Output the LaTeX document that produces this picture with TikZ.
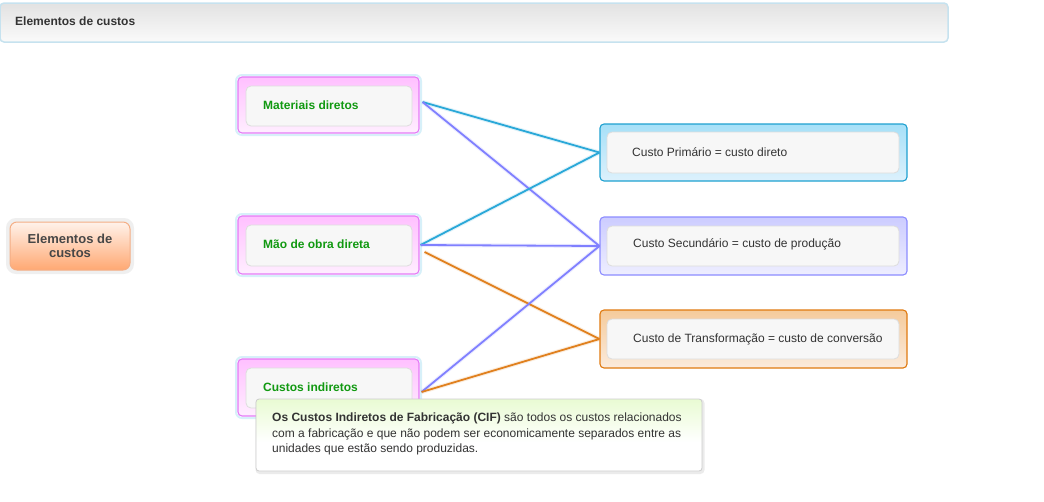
\documentclass[tikz,border=0pt]{standalone}
\usepackage{fontspec}
\setmainfont{Liberation Sans}
\usetikzlibrary{calc}
\definecolor{hdrborder}{HTML}{C6E2EF}
\definecolor{hdrtop}{HTML}{E2E2E2}
\definecolor{hdrbot}{HTML}{FAFAFA}
\definecolor{txtdark}{HTML}{333333}
\definecolor{pinkborder}{HTML}{E47AF6}
\definecolor{pinktop}{HTML}{FFC0FF}
\definecolor{pinkbot}{HTML}{FFEEFF}
\definecolor{cyanborder}{HTML}{1EA0D0}
\definecolor{cyantop}{HTML}{A6E0F8}
\definecolor{cyanbot}{HTML}{DDF1FC}
\definecolor{blueborder}{HTML}{8C8CFF}
\definecolor{bluetop}{HTML}{CCCCFF}
\definecolor{bluebot}{HTML}{EEEEFF}
\definecolor{orangeborder}{HTML}{E07A10}
\definecolor{orangetop}{HTML}{F5CB9C}
\definecolor{orangebot}{HTML}{FBEBDC}
\definecolor{innerfill}{HTML}{F7F7F7}
\definecolor{innerborder}{HTML}{DDDDDD}
\definecolor{greentxt}{HTML}{119911}
\definecolor{linecyan}{HTML}{2AA8D8}
\definecolor{lineblue}{HTML}{8080FF}
\definecolor{lineorange}{HTML}{E0801E}
\definecolor{elemtop}{HTML}{FFF2EA}
\definecolor{elembot}{HTML}{FFA872}
\definecolor{elemborder}{HTML}{F4AE86}
\definecolor{tipgreen}{HTML}{D6F8AE}
\definecolor{tipborder}{HTML}{CCCCCC}
\definecolor{halocol}{HTML}{BDE6F5}
\pgfdeclareverticalshading{tipshade}{100bp}{color(0bp)=(white); color(45bp)=(white); color(100bp)=(tipgreen)}
\tikzset{
  box/.style={rounded corners=4pt, inner sep=0pt, line width=1.1pt},
  leftbox/.style={box, draw=pinkborder, top color=pinktop, bottom color=pinkbot,
    minimum width=181pt, minimum height=56pt},
  rightbox/.style n args={3}{box, draw=#1, top color=#2, bottom color=#3,
    minimum width=307pt, minimum height=57pt},
  innerbox/.style={rounded corners=5pt, fill=innerfill, draw=innerborder, line width=0.8pt, inner sep=0pt},
  halo/.style={rounded corners=6pt, draw=#1, line width=2pt, opacity=0.6},
  lbl/.style={anchor=west, inner sep=0pt, font=\fontsize{12}{14}\selectfont\bfseries, text=greentxt},
  rlbl/.style={anchor=west, inner sep=0pt, font=\fontsize{12}{14}\selectfont, text=txtdark},
  conn/.style={line width=1.8pt, draw=#1},
  connglow/.style={line width=4pt, draw=#1, opacity=0.15}
}
\begin{document}
\begin{tikzpicture}[x=1pt,y=-1pt]
\useasboundingbox (0,0) rectangle (1044,501);
% header
\node[draw=hdrborder, line width=1.5pt, rounded corners=4pt, top color=hdrtop, bottom color=hdrbot,
  minimum width=948pt, minimum height=39pt, inner sep=0pt] (hdr) at (474,22.5) {};
\node[anchor=west, inner sep=0pt, font=\fontsize{12}{14}\selectfont\bfseries, text=txtdark] (hdrtxt) at (15,21) {Elementos de custos};
% central box
\node[draw=gray!25, line width=4pt, rounded corners=8pt, minimum width=124pt, minimum height=52pt, inner sep=0pt, opacity=0.5] (elemglow) at (70,246) {};
\node[draw=elemborder, line width=1pt, rounded corners=7pt, top color=elemtop, bottom color=elembot,
  minimum width=120pt, minimum height=48pt, inner sep=0pt, align=center,
  font=\fontsize{13}{14}\selectfont\bfseries, text=txtdark!90!white] (elem) at (70,246) {Elementos de\\custos};
% left halos
\node[halo=halocol, minimum width=185pt, minimum height=60pt] (mathalo) at (328.5,105) {};
\node[halo=halocol, minimum width=185pt, minimum height=62pt] (maohalo) at (328.5,245) {};
\node[halo=halocol, minimum width=185pt, minimum height=61pt] (cushalo) at (328.5,387.5) {};
% left boxes
\node[leftbox] (mat) at (328.5,105) {};
\node[innerbox, minimum width=166pt, minimum height=40pt] (matin) at (329,106) {};
\node[lbl] (mattxt) at (263,105) {Materiais diretos};
\node[leftbox, minimum height=58pt] (mao) at (328.5,245) {};
\node[innerbox, minimum width=166pt, minimum height=41pt] (maoin) at (329,245.5) {};
\node[lbl] (maotxt) at (263,244) {Mão de obra direta};
\node[leftbox, minimum height=57pt] (cus) at (328.5,387.5) {};
\node[innerbox, minimum width=166pt, minimum height=40pt] (cusin) at (329,388) {};
\node[lbl] (custxt) at (263,387) {Custos indiretos};
% right boxes
\node[rightbox={cyanborder}{cyantop}{cyanbot}] (prim) at (753.5,152.5) {};
\node[innerbox, minimum width=292pt, minimum height=41pt] (primin) at (753,152.5) {};
\node[rlbl] (primtxt) at (632,152) {Custo Primário = custo direto};
\node[rightbox={blueborder}{bluetop}{bluebot}, minimum height=58pt] (sec) at (753.5,246) {};
\node[innerbox, minimum width=292pt, minimum height=40pt] (secin) at (753,246) {};
\node[rlbl] (sectxt) at (633,244) {Custo Secundário = custo de produção};
\node[rightbox={orangeborder}{orangetop}{orangebot}, minimum height=58pt] (trans) at (753.5,339) {};
\node[innerbox, minimum width=292pt, minimum height=40pt] (transin) at (753,339) {};
\node[rlbl] (transtxt) at (633,339) {Custo de Transformação = custo de conversão};
% connector start points
\coordinate (ma) at ($(mat.east)+(3,-3)$);
\coordinate (mo) at ($(mao.east)+(1,0)$);
\coordinate (mo2) at ($(mao.east)+(5,7)$);
\coordinate (ci) at ($(cus.east)+(2,4.5)$);
% connectors
\foreach \a/\b/\c in {ma/prim/linecyan, ma/sec/lineblue, mo/prim/linecyan, mo/sec/lineblue, mo2/trans/lineorange, ci/sec/lineblue, ci/trans/lineorange}{
  \draw[connglow=\c] (\a) -- (\b.west);
}
\foreach \a/\b/\c in {ma/prim/linecyan, ma/sec/lineblue, mo/prim/linecyan, mo/sec/lineblue, mo2/trans/lineorange, ci/sec/lineblue, ci/trans/lineorange}{
  \draw[conn=\c] (\a) -- (\b.west);
}
% tooltip
\node[fill=black, opacity=0.08, rounded corners=4pt, minimum width=449pt, minimum height=75pt, inner sep=0pt] (tipshadow) at (480,436.5) {};
\node[draw=tipborder, line width=0.8pt, rounded corners=3pt, shading=tipshade,
  minimum width=446pt, minimum height=72pt, inner sep=0pt] (tip) at (479,435) {};
\node[anchor=north west, inner sep=0pt, align=left, text=txtdark,
  font=\fontsize{12}{15.5}\selectfont] (tiptxt) at (272,413) {\textbf{Os Custos Indiretos de Fabricação (CIF)} são todos os custos relacionados\\com a fabricação e que não podem ser economicamente separados entre as\\unidades que estão sendo produzidas.};
\end{tikzpicture}
\end{document}
